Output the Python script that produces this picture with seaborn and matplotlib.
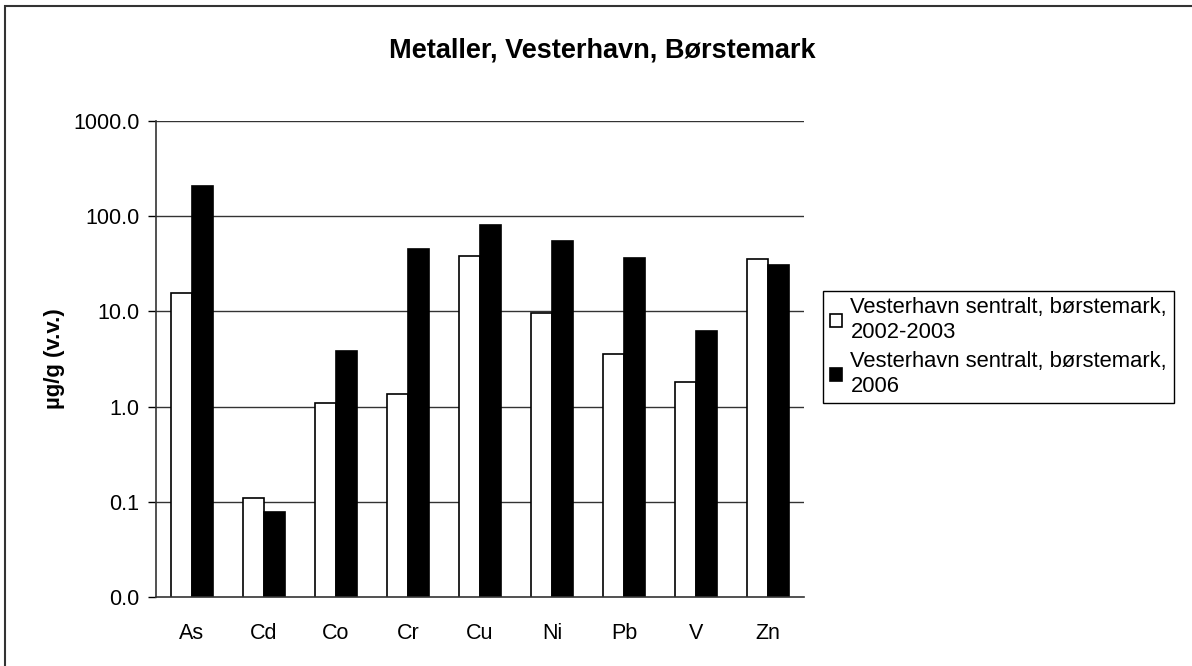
import numpy as np
import pandas as pd
import matplotlib
matplotlib.use("Agg")
import matplotlib.pyplot as plt
import seaborn as sns
from matplotlib.patches import Rectangle
from matplotlib.ticker import FixedLocator, FuncFormatter

# data
metaller = ["As", "Cd", "Co", "Cr", "Cu", "Ni", "Pb", "V", "Zn"]
verdi_2002_2003 = [15.5, 0.11, 1.09, 1.35, 37.9, 9.6, 3.6, 1.82, 35.6]
verdi_2006 = [208.0, 0.078, 3.8, 44.9, 81.6, 55.4, 36.1, 6.3, 30.5]
serie_navn = ["Vesterhavn sentralt, børstemark,\n2002-2003",
              "Vesterhavn sentralt, børstemark,\n2006"]
y_ticks = [0.01, 0.1, 1, 10, 100, 1000]

df = pd.DataFrame({
    "metall": metaller * 2,
    "verdi": verdi_2002_2003 + verdi_2006,
    "serie": [serie_navn[0]] * len(metaller) + [serie_navn[1]] * len(metaller),
})

sns.set_style("white")
plt.rcParams["font.family"] = ["Liberation Sans", "DejaVu Sans"]
plt.rcParams["text.color"] = "black"
plt.rcParams["axes.labelcolor"] = "black"
plt.rcParams["xtick.color"] = "black"
plt.rcParams["ytick.color"] = "black"

fig = plt.figure(figsize=(11.92, 6.66), dpi=100)
ax = fig.add_axes([156 / 1192, 69 / 666, 648 / 1192, 476 / 666])

sns.barplot(data=df, x="metall", y="verdi", hue="serie",
            palette={serie_navn[0]: "white", serie_navn[1]: "black"},
            edgecolor="black", linewidth=1.2, width=0.59, ax=ax)

ax.set_yscale("log")
ax.set_ylim(0.01, 1000)
ax.set_xlim(-0.5, len(metaller) - 0.5)
ax.yaxis.set_major_locator(FixedLocator(y_ticks))
ax.yaxis.set_minor_locator(FixedLocator([]))
ax.yaxis.set_major_formatter(FuncFormatter(lambda v, p: f"{v:.1f}"))

# gridlines
for v in y_ticks[1:]:
    ax.axhline(v, color="#333333", linewidth=1.0, zorder=0)

# x ticks between categories
ax.set_xticks(np.arange(len(metaller)))
ax.set_xticklabels(metaller)
ax.set_xticks(np.arange(len(metaller) + 1) - 0.5, minor=True)
ax.tick_params(axis="x", which="major", length=0, pad=19, labelsize=15.5)
ax.tick_params(axis="x", which="minor", length=6, width=1, color="black", direction="out")
ax.tick_params(axis="y", which="major", length=6, width=1, color="black",
               direction="out", labelsize=15.5, pad=6, left=True)

for s in ["top", "right"]:
    ax.spines[s].set_visible(False)
for s in ["left", "bottom"]:
    ax.spines[s].set_color("#333333")
    ax.spines[s].set_linewidth(1.2)

ax.set_xlabel("")
ax.set_ylabel("µg/g (v.v.)", fontsize=16, fontweight="bold", labelpad=6)

fig.text(0.505, 1 - 50 / 666, "Metaller, Vesterhavn, Børstemark",
         ha="center", va="center", fontsize=19.5, fontweight="bold")

handles, labels = ax.get_legend_handles_labels()
ax.legend(handles, labels, loc="center left",
          bbox_to_anchor=(823 / 1192, 1 - 347 / 666), bbox_transform=fig.transFigure,
          frameon=True, fancybox=False, edgecolor="black", framealpha=1,
          fontsize=15.8, handlelength=0.55, handleheight=0.55, handletextpad=0.4,
          borderpad=0.3, labelspacing=0.4, borderaxespad=0)
ax.get_legend().get_frame().set_linewidth(1.0)

# outer chart border
fig.patches.append(Rectangle((5 / 1192, -0.05), 1.1, 1 - 6 / 666 + 0.05,
                             transform=fig.transFigure, fill=False,
                             edgecolor="#333333", linewidth=1.5))

fig.savefig("out.png", dpi=100)
